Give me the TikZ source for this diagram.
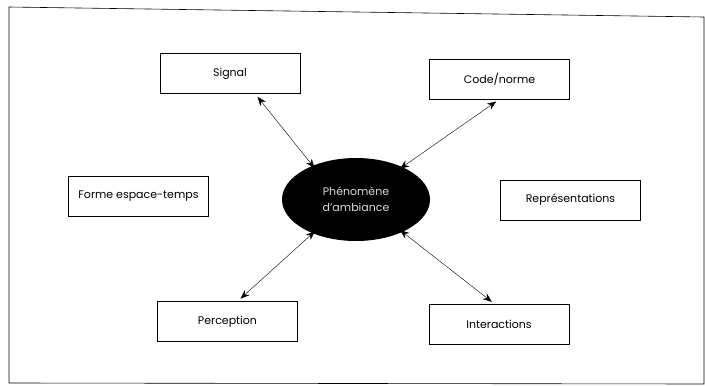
\documentclass[tikz,border=0pt]{standalone}
\usepackage{fontspec}
\setmainfont{Poppins}
\usetikzlibrary{arrows.meta, shapes.geometric}
\tikzset{
    >={Stealth[length=9pt, width=7pt]},
    facet/.style={draw, thin, minimum width=140pt, minimum height=40pt, inner sep=2pt,
        font=\fontsize{11}{13}\selectfont},
    core/.style={ellipse, fill=black, text=white!85!black, minimum width=148pt, minimum height=83pt,
        inner sep=0pt, align=center, font=\fontsize{11}{16}\selectfont},
    link/.style={<->, thin, shorten <=4pt, shorten >=-3pt},
}
\begin{document}
\begin{tikzpicture}[x=1pt, y=-1pt]
    \useasboundingbox (0,0) rectangle (705,386);
    \draw[semithick] (9,7) -- (704,17) -- (704,384) -- (9,383) -- cycle;
    \node[core] (amb) at (356,199.5) {Phénomène\\d'ambiance};
    \node[facet] (sig) at (230,73.5) {Signal};
    \node[facet] (code) at (499.5,79) {Code/norme};
    \node[facet] (forme) at (138.5,196.5) {Forme espace-temps};
    \node[facet] (repr) at (570.5,200) {Représentations};
    \node[facet] (perc) at (227.5,321.5) {Perception};
    \node[facet] (inter) at (499,324.5) {Interactions};
    % double arrows towards the ellipse
    \foreach \b/\dx/\side/\a in {sig/25/south/142, code/0/south/35, perc/10/north/218, inter/-4/north/325}
        \draw[link] ([xshift=\dx pt]\b.\side) -- (amb.\a);
\end{tikzpicture}
\end{document}
